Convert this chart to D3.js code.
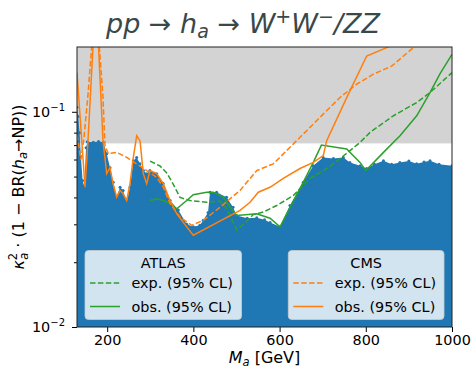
<!DOCTYPE html>
<html>
<head>
<meta charset="utf-8">
<script src="https://cdn.jsdelivr.net/npm/d3@7"></script>
<style>
body { margin: 0; background: #fff; }
text { font-family: "DejaVu Sans", sans-serif; }
</style>
</head>
<body>
<div id="chart"></div>
<script>
// Data (mass in GeV, value of kappa^2 * (1 - BR))

var massTicks = [200, 400, 600, 800, 1000];
var yMajorTicks = [0.01, 0.1];
var yMinorTicks = [0.02, 0.03, 0.04, 0.05, 0.06, 0.07, 0.08, 0.09];
var excludedAbove = 0.0713;

// upper edge of the scan points
var scanEdge = [
    [130, 0.105], [133, 0.095], [136, 0.080], [139, 0.062], [143, 0.048], [147, 0.045],
    [151, 0.068], [154, 0.0725], [168, 0.0721], [180, 0.0728], [191, 0.0721], [199, 0.0639],
    [206.6, 0.055], [214, 0.0471], [222, 0.0404], [230, 0.0446], [237, 0.0431], [245, 0.038],
    [253, 0.0446], [260.6, 0.0593], [268.5, 0.0614], [276, 0.0573], [284, 0.0533], [292, 0.0515],
    [299, 0.0533], [315, 0.0515], [330, 0.0464], [346, 0.0387], [365, 0.035], [384.5, 0.030],
    [400, 0.0292], [415, 0.0297], [423, 0.0313], [434, 0.034], [438.6, 0.0423], [454, 0.0423],
    [477, 0.0401], [492, 0.036], [500.5, 0.033], [525, 0.032], [547, 0.0322], [565, 0.0315],
    [578, 0.0306], [601, 0.0292], [624, 0.0367], [655, 0.0471], [678, 0.0562], [701, 0.0614],
    [725, 0.0606], [748, 0.0614], [763, 0.0582], [787, 0.0562], [802, 0.0545], [820, 0.057],
    [841, 0.0593], [860, 0.057], [879, 0.0582], [900, 0.059], [918, 0.0573], [935, 0.0585],
    [949, 0.0593], [970, 0.057], [1000, 0.0562]
];

var atlasExp = [
    [299.4, 0.059], [322.6, 0.056], [338.1, 0.052], [353.4, 0.046], [369, 0.040], [392.2, 0.0387],
    [430.9, 0.038], [461.8, 0.0385], [477.3, 0.0355], [500.5, 0.0283], [515.8, 0.030], [539, 0.0333],
    [562.2, 0.0342], [593.3, 0.0367], [631.8, 0.0408], [670.6, 0.049], [709.3, 0.0545], [740.2, 0.0606],
    [786.6, 0.072], [809.8, 0.0802], [863.8, 0.0958], [918.1, 0.1104], [949, 0.1229], [1000, 0.152]
];

var atlasObs = [
    [299.4, 0.0387], [314.9, 0.0394], [330.2, 0.0387], [345.8, 0.0375], [361.3, 0.0354], [384.5, 0.0387],
    [399.8, 0.0412], [430.9, 0.0423], [446.2, 0.0423], [469.4, 0.0401], [485, 0.036], [500.5, 0.033],
    [546.9, 0.0336], [577.8, 0.032], [601, 0.0292], [624.2, 0.036], [655, 0.0471], [678.2, 0.0582],
    [697, 0.070], [755.7, 0.0672], [786.6, 0.0582], [800, 0.0533], [845, 0.066], [879.4, 0.0774],
    [918.1, 0.0958], [949, 0.1229], [972, 0.150], [1000, 0.185]
];

var cmsExp = [
    [130, 0.078], [135, 0.068], [139, 0.060], [146, 0.075], [155.5, 0.12], [164.8, 0.21], [172.9, 0.30],
    [181, 0.21], [190, 0.12], [195, 0.0696], [202.6, 0.0639], [222.1, 0.0648], [245.3, 0.0614],
    [268.5, 0.0573], [291.7, 0.0533], [314.9, 0.0496], [330.2, 0.0446], [345.8, 0.0375], [369, 0.0324],
    [396.1, 0.0297], [423, 0.0313], [461.8, 0.036], [508.2, 0.0431], [546.9, 0.0533], [585.4, 0.0573],
    [624.2, 0.0684], [662.9, 0.0817], [701.4, 0.0976], [740.2, 0.1165], [778.9, 0.1343], [817.4, 0.1495],
    [860, 0.163], [910.2, 0.1985], [950, 0.23]
];

var cmsObs = [
    [130, 0.152], [148.6, 0.0446], [155.5, 0.0734], [167.8, 0.213], [172.9, 0.30], [179.4, 0.213],
    [190.3, 0.0734], [198.9, 0.0516], [206.6, 0.055], [213.5, 0.0464], [222.1, 0.0401], [229.8, 0.0431],
    [236.7, 0.0417], [245.3, 0.0387], [253, 0.0464], [260.6, 0.0613], [268.5, 0.0774], [276.2, 0.0734],
    [283.8, 0.0516], [291.7, 0.0464], [299.4, 0.0533], [314.9, 0.0516], [330.2, 0.0464], [345.8, 0.0387],
    [361.3, 0.0336], [384.5, 0.0292], [399.8, 0.0267], [508.2, 0.0348], [531.4, 0.038], [550.6, 0.0423],
    [577.8, 0.0446], [608.6, 0.049], [647.4, 0.0545], [678.2, 0.0582], [701.4, 0.0626], [709.3, 0.0734],
    [758.7, 0.1199], [802.1, 0.1817], [848.5, 0.1985], [900, 0.23]
];

// Chart variables

var W = 473, H = 369;
var margin = {top: 47, right: 21, bottom: 42, left: 77};
var width = W - margin.left - margin.right;
var height = H - margin.top - margin.bottom;

var blue = "#1f77b4", orange = "#ff7f0e", green = "#2ca02c";
var fs = 14.4;     // ticks and legend
var lfs = 16;      // axis labels

var svg = d3.select("#chart").append("svg")
    .attr("width", W)
    .attr("height", H);

var g = svg.append("g")
    .attr("transform", "translate(" + margin.left + "," + margin.top + ")");

var x = d3.scaleLinear().domain([130, 1000]).range([0, width]);
var y = d3.scaleLog().domain([0.01, 0.2]).range([height, 0]);

g.append("clipPath").attr("id", "clip")
    .append("rect").attr("width", width).attr("height", height);

var plot = g.append("g").attr("clip-path", "url(#clip)");

// excluded region
plot.append("rect")
    .attr("x", 0).attr("y", 0)
    .attr("width", width)
    .attr("height", y(excludedAbove))
    .attr("fill", "#d3d3d3");

// scan points region
var area = d3.area()
    .x(function(d) { return x(d[0]); })
    .y0(height)
    .y1(function(d) { return y(d[1]); });

plot.append("path")
    .datum(scanEdge)
    .attr("d", area)
    .attr("fill", blue);

plot.selectAll("circle.edge")
    .data(scanEdge)
    .enter().append("circle")
    .attr("class", "edge")
    .attr("cx", function(d) { return x(d[0]); })
    .attr("cy", function(d) { return y(d[1]); })
    .attr("r", 1.5)
    .attr("fill", blue);

// limit lines
var line = d3.line()
    .x(function(d) { return x(d[0]); })
    .y(function(d) { return y(d[1]); });

var series = [
    {data: atlasExp, color: green, dash: "5.5,2.4"},
    {data: atlasObs, color: green, dash: null},
    {data: cmsExp, color: orange, dash: "5.5,2.4"},
    {data: cmsObs, color: orange, dash: null}
];

series.forEach(function(s) {
    plot.append("path")
        .datum(s.data)
        .attr("d", line)
        .attr("fill", "none")
        .attr("stroke", s.color)
        .attr("stroke-width", 1.5)
        .attr("stroke-dasharray", s.dash);
});

// legends

function legend(x0, y0, w, h, title, color) {
    var lg = g.append("g").attr("transform", "translate(" + x0 + "," + y0 + ")");
    lg.append("rect")
        .attr("width", w).attr("height", h)
        .attr("rx", 3.5)
        .attr("fill", "rgba(255,255,255,0.8)")
        .attr("stroke", "rgba(204,204,204,0.8)")
        .attr("stroke-width", 1);
    lg.append("text")
        .attr("x", w / 2).attr("y", 17.5)
        .attr("text-anchor", "middle")
        .attr("font-size", fs)
        .text(title);
    [["exp. (95% CL)", "5.5,2.4"], ["obs. (95% CL)", null]].forEach(function(e, i) {
        var yy = 32.5 + i * 23.5;
        lg.append("line")
            .attr("x1", 5).attr("x2", 35)
            .attr("y1", yy).attr("y2", yy)
            .attr("stroke", color)
            .attr("stroke-width", 1.5)
            .attr("stroke-dasharray", e[1]);
        lg.append("text")
            .attr("x", 46.5).attr("y", yy + 5)
            .attr("font-size", fs)
            .text(e[0]);
    });
}

legend(8, 203.5, 156.5, 69, "ATLAS", green);
legend(211.3, 203.5, 155.7, 69, "CMS", orange);

// axes

var xAxis = g.append("g")
    .attr("transform", "translate(0," + height + ")")
    .call(d3.axisBottom(x).tickValues(massTicks).tickSize(5).tickPadding(3).tickFormat(d3.format("d")));
xAxis.select(".domain").remove();
xAxis.selectAll("text").attr("font-size", fs).attr("font-family", "DejaVu Sans").attr("fill", "#000");

var yAxis = g.append("g")
    .call(d3.axisLeft(y).tickValues(yMinorTicks).tickSize(3).tickFormat(""));
yAxis.select(".domain").remove();

var yMaj = g.append("g")
    .call(d3.axisLeft(y).tickValues(yMajorTicks).tickSize(5).tickFormat(""));
yMaj.select(".domain").remove();

yMajorTicks.forEach(function(v) {
    var t = g.append("text")
        .attr("x", -12).attr("y", y(v) + 5)
        .attr("text-anchor", "end")
        .attr("font-size", fs);
    t.append("tspan").text("10");
    t.append("tspan").attr("dy", -6).attr("font-size", 10).text("\u2212" + Math.round(-Math.log10(v)));
});

// frame
g.append("rect")
    .attr("width", width).attr("height", height)
    .attr("fill", "none")
    .attr("stroke", "#222")
    .attr("stroke-width", 1);

// labels

var xl = svg.append("text")
    .attr("x", margin.left + width / 2).attr("y", 363)
    .attr("text-anchor", "middle")
    .attr("font-size", lfs);
xl.append("tspan").attr("font-style", "italic").text("M");
xl.append("tspan").attr("font-style", "italic").attr("font-size", 11.5).attr("dy", 3).text("a");
xl.append("tspan").attr("dy", -3).text(" [GeV]");

var yl = svg.append("text")
    .attr("transform", "translate(24," + (margin.top + height / 2) + ") rotate(-90)")
    .attr("text-anchor", "middle")
    .attr("font-size", lfs);
yl.append("tspan").attr("font-style", "italic").text("\u03ba");
yl.append("tspan").attr("font-size", 11.5).attr("dy", -7).text("2");
yl.append("tspan").attr("font-size", 11.5).attr("font-style", "italic").attr("dx", -7).attr("dy", 11).text("a");
yl.append("tspan").attr("dy", -4).text(" \u00b7 (1 \u2212 BR(");
yl.append("tspan").attr("font-style", "italic").text("h");
yl.append("tspan").attr("font-size", 11.5).attr("font-style", "italic").attr("dy", 3).text("a");
yl.append("tspan").attr("dy", -3).text("\u2192NP))");

var title = svg.append("text")
    .attr("x", 243).attr("y", 33)
    .attr("text-anchor", "middle")
    .attr("font-size", 27)
    .attr("fill", "#3b4848")
    .attr("font-style", "italic");
title.append("tspan").text("pp \u2192 h");
title.append("tspan").attr("font-size", 19).attr("dy", 5).text("a");
title.append("tspan").attr("dy", -5).text(" \u2192 W");
title.append("tspan").attr("font-size", 19).attr("dy", -10).text("+");
title.append("tspan").attr("dy", 10).text("W");
title.append("tspan").attr("font-size", 19).attr("dy", -10).text("\u2212");
title.append("tspan").attr("dy", 10).text("/ZZ");
</script>
</body>
</html>
